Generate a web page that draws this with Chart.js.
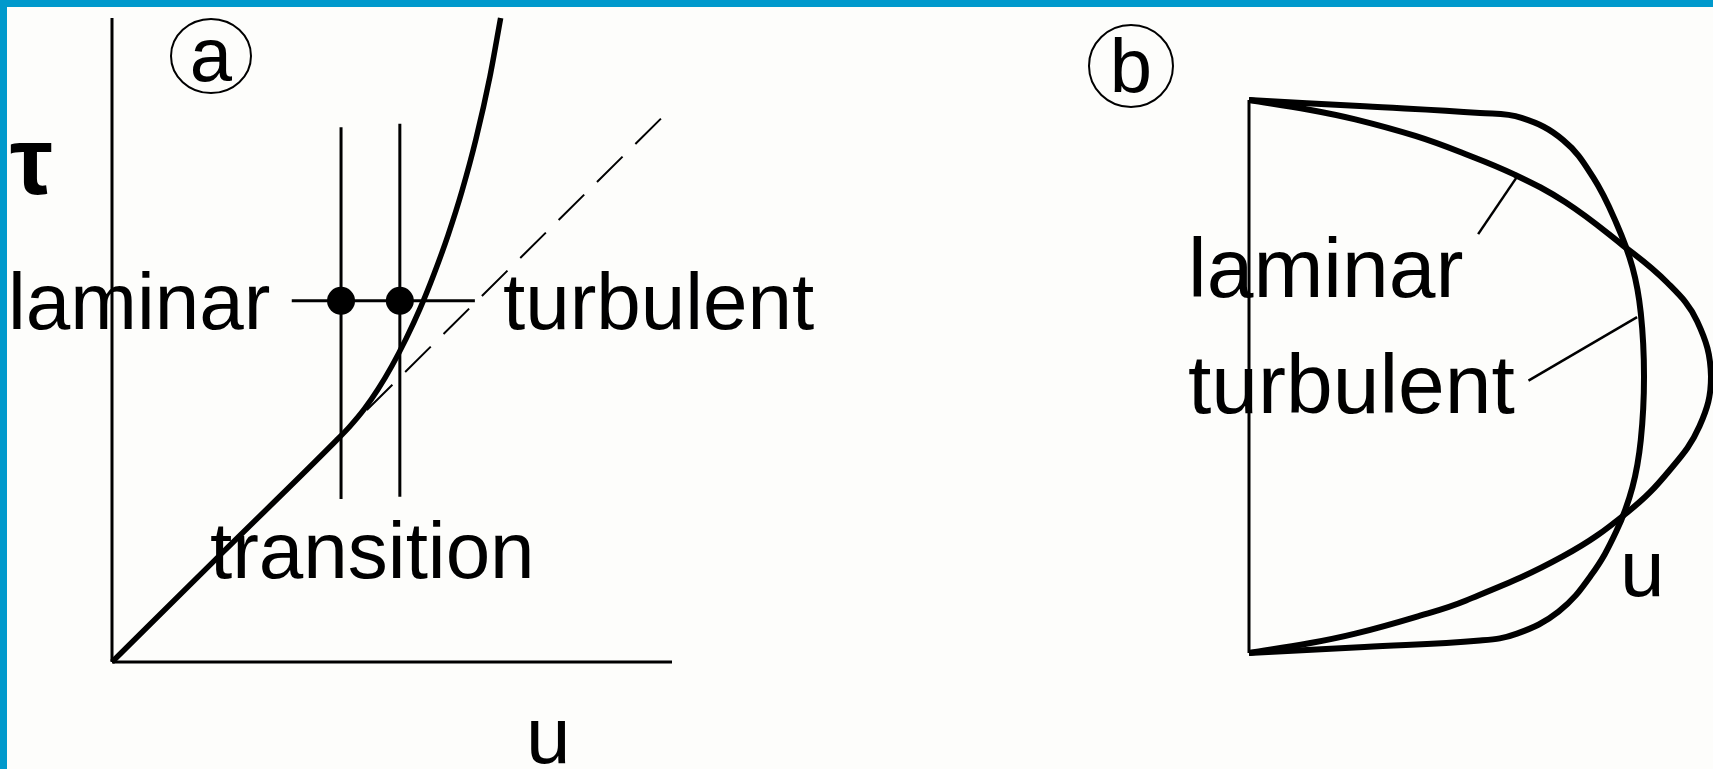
<!DOCTYPE html>
<html>
<head>
<meta charset="utf-8">
<script src="https://cdn.jsdelivr.net/npm/chart.js@4.4.1/dist/chart.umd.min.js"></script>
<style>
  html, body { margin: 0; padding: 0; background: #fdfdfb; }
  #marco { position: relative; width: 1713px; height: 769px; overflow: hidden; background: #fdfdfb; }
  #marco::before { content: ''; position: absolute; left: 0; top: 0; width: 1713px; height: 7px; background: #0099cc; }
  #marco::after { content: ''; position: absolute; left: 0; top: 0; width: 7px; height: 769px; background: #0099cc; }
  canvas { position: absolute; top: 0; }
  #panelA { left: 0; }
  #panelB { left: 860px; }
</style>
</head>
<body>
<div id="marco">
  <canvas id="panelA" width="860" height="769"></canvas>
  <canvas id="panelB" width="853" height="769"></canvas>
</div>
<script>
// (a) esfuerzo cortante tau contra velocidad u
const uMax = 10;
const tauMax = 11.5;
const uCurva   = [0, 2, 4.0, 4.25, 4.5, 4.75, 5.0, 5.25, 5.5, 5.75, 6.0, 6.25, 6.5, 6.75, 6.94];
const tauCurva = [0, 1.98, 3.95, 4.21, 4.51, 4.87, 5.29, 5.77, 6.31, 6.93, 7.62, 8.41, 9.34, 10.46, 11.5];
// prolongacion de la recta laminar (discontinua)
const uRecta   = [4.55, 9.85];
const tauRecta = [4.5, 9.75];
// limites de la zona de transicion
const uTransicion   = [4.09, 5.14];
const tauTransicion = 6.45;
const tauMarcaIzq = [2.91, 9.55];
const tauMarcaDer = [2.95, 9.61];
const uMarcaHoriz = [3.21, 6.48];

// (b) perfiles de velocidad u a traves del conducto (eta = posicion)
const etaLaminar = [1, 0.965, 0.93, 0.87, 0.81, 0.73, 0.63, 0.48, 0.34, 0.2, 0, -0.18, -0.34, -0.49, -0.65, -0.81, -0.87, -0.93, -0.965, -1];
const uLaminar   = [0, 0.13, 0.23, 0.36, 0.46, 0.575, 0.685, 0.805, 0.905, 0.97, 1.0, 0.975, 0.91, 0.82, 0.68, 0.47, 0.36, 0.23, 0.13, 0];
const etaTurbulento = [1, 0.977, 0.953, 0.935, 0.855, 0.72, 0.555, 0.395, 0.23, 0, -0.23, -0.4, -0.56, -0.72, -0.85, -0.93, -0.955, -0.978, -1];
const uTurbulento   = [0, 0.25, 0.5, 0.59, 0.68, 0.745, 0.795, 0.83, 0.848, 0.855, 0.848, 0.83, 0.795, 0.74, 0.67, 0.58, 0.5, 0.25, 0];
// lineas de referencia de las etiquetas
const guiaLaminar    = { u: [0.496, 0.58], eta: [0.515, 0.722] };
const guiaTurbulento = { u: [0.605, 0.84], eta: [-0.015, 0.215] };

const pares = (xs, ys) => xs.map((x, i) => ({ x: x, y: ys[i] }));
const linea = (data, extra) => Object.assign({
  data: data,
  showLine: true,
  pointRadius: 0,
  borderColor: '#000',
  borderWidth: 3,
  tension: 0,
  clip: false,
  order: 2
}, extra || {});

const fuente = (px) => px + 'px "Liberation Sans", Arial, sans-serif';

function rotuloCircular(ctx, letra, cx, cy, rx, ry, base) {
  ctx.save();
  ctx.lineWidth = 2;
  ctx.strokeStyle = '#000';
  ctx.beginPath();
  ctx.ellipse(cx, cy, rx, ry, 0, 0, Math.PI * 2);
  ctx.stroke();
  ctx.font = fuente(76);
  ctx.textAlign = 'center';
  ctx.textBaseline = 'alphabetic';
  ctx.fillStyle = '#000';
  ctx.fillText(letra, cx, base);
  ctx.restore();
}

const textosA = {
  id: 'textosA',
  afterDraw(chart) {
    const ctx = chart.ctx;
    ctx.save();
    ctx.fillStyle = '#000';
    ctx.textBaseline = 'alphabetic';
    ctx.font = 'bold ' + fuente(96);
    ctx.fillText('τ', 10, 194);
    ctx.font = fuente(80);
    ctx.fillText('laminar', 8, 329);
    ctx.fillText('turbulent', 503, 329);
    ctx.fillText('transition', 210, 578);
    ctx.fillText('u', 526, 763);
    ctx.restore();
    rotuloCircular(ctx, 'a', 211, 56, 40, 37, 81);
  }
};

const textosB = {
  id: 'textosB',
  afterDraw(chart) {
    const ctx = chart.ctx;
    ctx.save();
    ctx.fillStyle = '#000';
    ctx.textBaseline = 'alphabetic';
    ctx.font = fuente(84);
    ctx.fillText('laminar', 328, 297);
    ctx.fillText('turbulent', 328, 413);
    ctx.font = fuente(80);
    ctx.fillText('u', 760, 596);
    ctx.restore();
    rotuloCircular(ctx, 'b', 271, 66, 42, 41, 92);
  }
};

const comunes = {
  responsive: false,
  animation: false,
  events: [],
  plugins: { legend: { display: false }, tooltip: { enabled: false } }
};

new Chart(document.getElementById('panelA'), {
  type: 'scatter',
  data: {
    datasets: [
      linea(pares([0, 0], [0, tauMax])),
      linea(pares([0, uMax], [0, 0])),
      linea(pares([uTransicion[0], uTransicion[0]], tauMarcaIzq)),
      linea(pares([uTransicion[1], uTransicion[1]], tauMarcaDer)),
      linea(pares(uMarcaHoriz, [tauTransicion, tauTransicion])),
      linea(pares(uRecta, tauRecta), { borderWidth: 2, borderDash: [36, 18] }),
      linea(pares(uCurva, tauCurva), { borderWidth: 5.5, cubicInterpolationMode: 'monotone', order: 0 }),
      {
        data: pares(uTransicion, [tauTransicion, tauTransicion]),
        pointRadius: 14,
        pointBackgroundColor: '#000',
        pointBorderWidth: 0,
        clip: false,
        order: 1
      }
    ]
  },
  options: Object.assign({}, comunes, {
    layout: { padding: { left: 112, top: 18, right: 188, bottom: 107 } },
    scales: {
      x: { type: 'linear', min: 0, max: uMax, display: false },
      y: { type: 'linear', min: 0, max: tauMax, display: false }
    }
  }),
  plugins: [textosA]
});

new Chart(document.getElementById('panelB'), {
  type: 'scatter',
  data: {
    datasets: [
      linea(pares([0, 0], [-1, 1])),
      linea(pares(uLaminar, etaLaminar), { borderWidth: 6, tension: 0.4, order: 0 }),
      linea(pares(uTurbulento, etaTurbulento), { borderWidth: 6, tension: 0.4, order: 0 }),
      linea(pares(guiaLaminar.u, guiaLaminar.eta), { borderWidth: 2.5 }),
      linea(pares(guiaTurbulento.u, guiaTurbulento.eta), { borderWidth: 2.5 })
    ]
  },
  options: Object.assign({}, comunes, {
    layout: { padding: { left: 389, top: 100, right: 2, bottom: 116 } },
    scales: {
      x: { type: 'linear', min: 0, max: 1, display: false },
      y: { type: 'linear', min: -1, max: 1, display: false }
    }
  }),
  plugins: [textosB]
});
</script>
</body>
</html>
